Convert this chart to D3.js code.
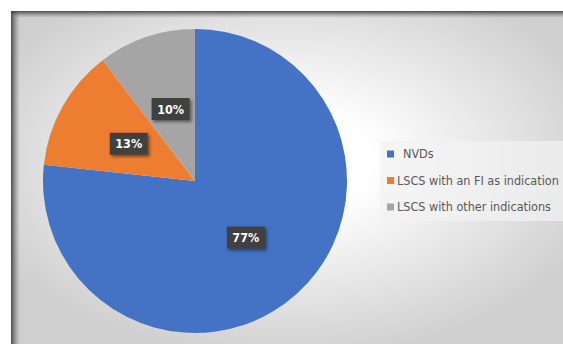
<!DOCTYPE html>
<html>
<head>
<meta charset="UTF-8">
<script src="https://d3js.org/d3.v7.min.js"></script>
<style>
  body { margin: 0; background: #fff; }
  svg { display: block; }
</style>
</head>
<body>
<div id="chart"></div>
<script>
const categories = ["NVDs", "LSCS with an FI as indication", "LSCS with other indications"];
const shares = [76.7, 12.9, 10.4];
const colors = ["#4472C4", "#ED7D31", "#A5A5A5"];

const W = 563, H = 344;
const svg = d3.select("#chart").append("svg").attr("width", W).attr("height", H);
const defs = svg.append("defs");

// chart area background
const rg = defs.append("radialGradient").attr("id", "bg")
  .attr("cx", "0.5").attr("cy", "0.45").attr("r", "0.6");
rg.append("stop").attr("offset", "0.25").attr("stop-color", "#ffffff");
rg.append("stop").attr("offset", "1").attr("stop-color", "#cfcfcf");

const lg = defs.append("linearGradient").attr("id", "shL");
lg.append("stop").attr("offset", "0").attr("stop-color", "#3a3a3a").attr("stop-opacity", 0.9);
lg.append("stop").attr("offset", "1").attr("stop-color", "#808080").attr("stop-opacity", 0);
const tg = defs.append("linearGradient").attr("id", "shT").attr("x2", 0).attr("y2", 1);
tg.append("stop").attr("offset", "0").attr("stop-color", "#3a3a3a").attr("stop-opacity", 0.9);
tg.append("stop").attr("offset", "1").attr("stop-color", "#808080").attr("stop-opacity", 0);

const f = defs.append("filter").attr("id", "drop").attr("x", "-20%").attr("y", "-20%").attr("width", "150%").attr("height", "160%");
f.append("feDropShadow").attr("dx", 2).attr("dy", 2).attr("stdDeviation", 1.5)
  .attr("flood-color", "#000").attr("flood-opacity", 0.45);

svg.append("rect").attr("x", 11).attr("y", 11).attr("width", W - 11).attr("height", H - 11).attr("fill", "url(#bg)");
svg.append("rect").attr("x", 11).attr("y", 11).attr("width", 9).attr("height", H - 11).attr("fill", "url(#shL)");
svg.append("rect").attr("x", 11).attr("y", 11).attr("width", W - 11).attr("height", 7).attr("fill", "url(#shT)");

// pie
const cx = 195, cy = 181, r = 152;
const data = categories.map((c, i) => ({ name: c, value: shares[i], color: colors[i] }));
const pie = d3.pie().value(d => d.value).sort(null);
const arc = d3.arc().innerRadius(0).outerRadius(r);
const labelArc = d3.arc().innerRadius(r * 0.5).outerRadius(r * 0.5);
const g = svg.append("g").attr("transform", `translate(${cx},${cy})`);
const arcs = pie(data);

g.selectAll("path").data(arcs).enter().append("path")
  .attr("d", arc).attr("fill", d => d.data.color);

const lbl = g.selectAll(".lbl").data(arcs).enter().append("g")
  .attr("transform", d => `translate(${labelArc.centroid(d)})`);
lbl.append("rect").attr("x", -19).attr("y", -11).attr("width", 38).attr("height", 22)
  .attr("fill", "#404040").attr("filter", "url(#drop)");
lbl.append("text").attr("text-anchor", "middle").attr("dy", "0.36em")
  .attr("fill", "#fff").attr("font-family", "Liberation Sans Narrow, DejaVu Sans Condensed, sans-serif")
  .attr("font-weight", "bold").attr("font-size", 12.5)
  .text(d => Math.round(d.data.value) + "%");

// legend
svg.append("rect").attr("x", 380).attr("y", 141).attr("width", W - 380).attr("height", 80)
  .attr("fill", "#f2f2f2").attr("opacity", 0.7);
const leg = svg.selectAll(".leg").data(data).enter().append("g")
  .attr("transform", (d, i) => `translate(387,${154 + i * 26.5})`);
leg.append("rect").attr("x", 0).attr("y", -3.5).attr("width", 7).attr("height", 7).attr("fill", d => d.color);
leg.append("text").attr("x", (d, i) => i === 0 ? 16 : 10).attr("dy", "0.35em")
  .attr("font-family", "Liberation Sans Narrow, DejaVu Sans Condensed, sans-serif").attr("font-size", 12.5)
  .attr("fill", "#595959").text(d => d.name);
</script>
</body>
</html>
